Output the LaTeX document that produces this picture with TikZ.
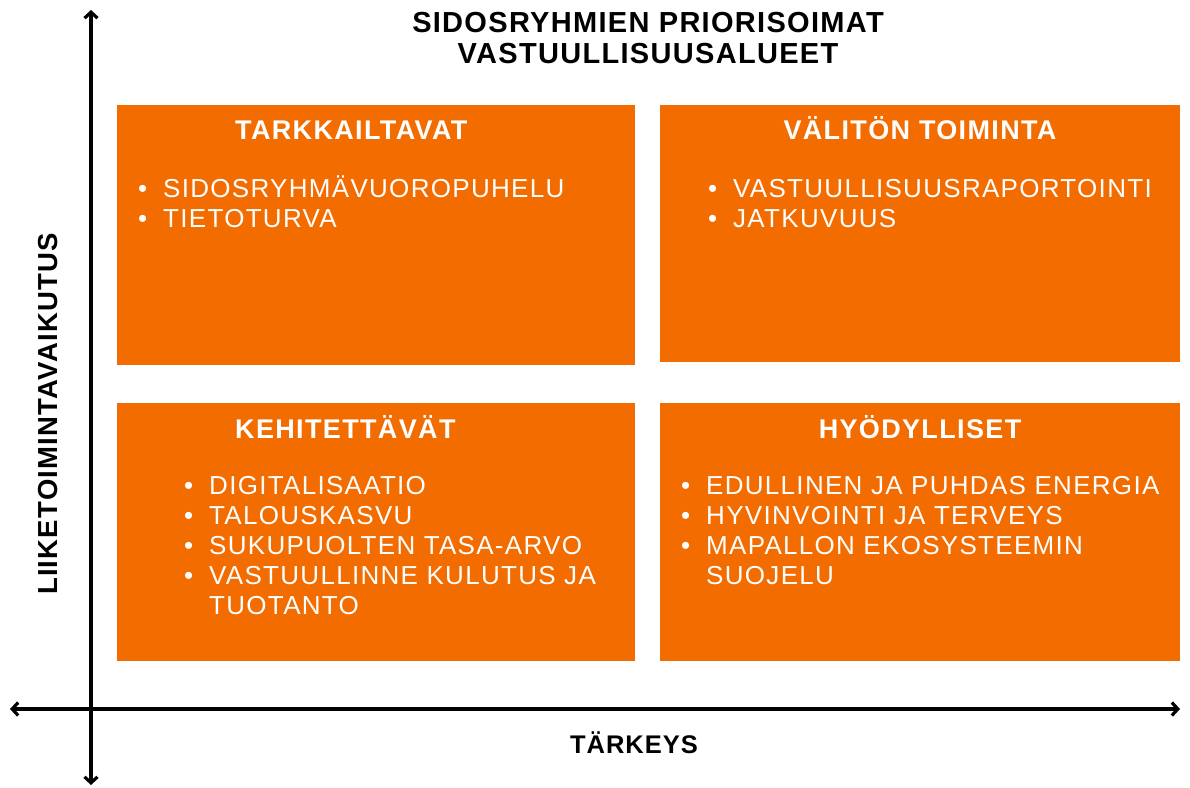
\documentclass[tikz,border=0pt]{standalone}
\usepackage{fontspec}
\setmainfont{Liberation Sans}
\usepackage{tikz}
\usetikzlibrary{arrows.meta}
\definecolor{quadorange}{RGB}{242,108,0}
\newcommand{\bul}{\llap{\textbullet\hspace{16pt}}}

\begin{document}
\begin{tikzpicture}[x=1pt,y=-1pt]
  \tikzset{quadrant/.style={fill=quadorange,draw=none}}
  \tikzset{heading/.style={font=\fontsize{27}{30}\selectfont\bfseries\addfontfeature{LetterSpace=5},text=white,inner sep=0pt,anchor=base}}
  \tikzset{entries/.style={font=\fontsize{26}{30}\selectfont\addfontfeature{LetterSpace=5},text=white,inner sep=0pt,anchor=base west}}
  \tikzset{axislabel/.style={font=\fontsize{29}{31}\selectfont\bfseries\addfontfeature{LetterSpace=4.5},inner sep=0pt,anchor=base}}
  \tikzset{axis/.style={line width=3.2pt,{Straight Barb[length=6pt,width=13pt]}-{Straight Barb[length=6pt,width=13pt]}}}
  \useasboundingbox (0,0) rectangle (1190,787);
  % four fields
  \fill[quadrant] (117,105) rectangle (635,365);
  \fill[quadrant] (660,105) rectangle (1180,362);
  \fill[quadrant] (117,403) rectangle (635,661);
  \fill[quadrant] (660,403) rectangle (1180,661);
  % axes
  \coordinate (ytop) at (91,10);
  \coordinate (ybot) at (91,785);
  \coordinate (xleft) at (10,709);
  \coordinate (xright) at (1180,709);
  \draw[axis] (ybot) -- (ytop);
  \draw[axis] (xleft) -- (xright);
  \node[axislabel] (title) at (648,32) {SIDOSRYHMIEN PRIORISOIMAT};
  \node[axislabel] (subtitle) at (648,63) {VASTUULLISUUSALUEET};
  \node[axislabel,font=\fontsize{25.5}{31}\selectfont\bfseries\addfontfeature{LetterSpace=4}] (xname) at (634,753) {TÄRKEYS};
  \node[axislabel,font=\fontsize{27.5}{31}\selectfont\bfseries\addfontfeature{LetterSpace=4.5},rotate=90] (yname) at (57,414) {LIIKETOIMINTAVAIKUTUS};
  % headings
  \node[heading,anchor=base west] (tlhead) at (235,139) {TARKKAILTAVAT};
  \node[heading] (trhead) at (920,139) {VÄLITÖN TOIMINTA};
  \node[heading,anchor=base west] (blhead) at (235,438) {KEHITETTÄVÄT};
  \node[heading] (brhead) at (920,438) {HYÖDYLLISET};
  % items
  \node[entries] (tlitems) at (163,197) {\begin{tabular}[t]{@{}l@{}}
      \bul SIDOSRYHMÄVUOROPUHELU\\
      \bul TIETOTURVA
    \end{tabular}};
  \node[entries] (tritems) at (733,197) {\begin{tabular}[t]{@{}l@{}}
      \bul VASTUULLISUUSRAPORTOINTI\\
      \bul JATKUVUUS
    \end{tabular}};
  \node[entries] (blitems) at (209,494) {\begin{tabular}[t]{@{}l@{}}
      \bul DIGITALISAATIO\\
      \bul TALOUSKASVU\\
      \bul SUKUPUOLTEN TASA-ARVO\\
      \bul VASTUULLINNE KULUTUS JA\\
      TUOTANTO
    \end{tabular}};
  \node[entries] (britems) at (706,494) {\begin{tabular}[t]{@{}l@{}}
      \bul EDULLINEN JA PUHDAS ENERGIA\\
      \bul HYVINVOINTI JA TERVEYS\\
      \bul MAPALLON EKOSYSTEEMIN\\
      SUOJELU
    \end{tabular}};
\end{tikzpicture}
\end{document}
